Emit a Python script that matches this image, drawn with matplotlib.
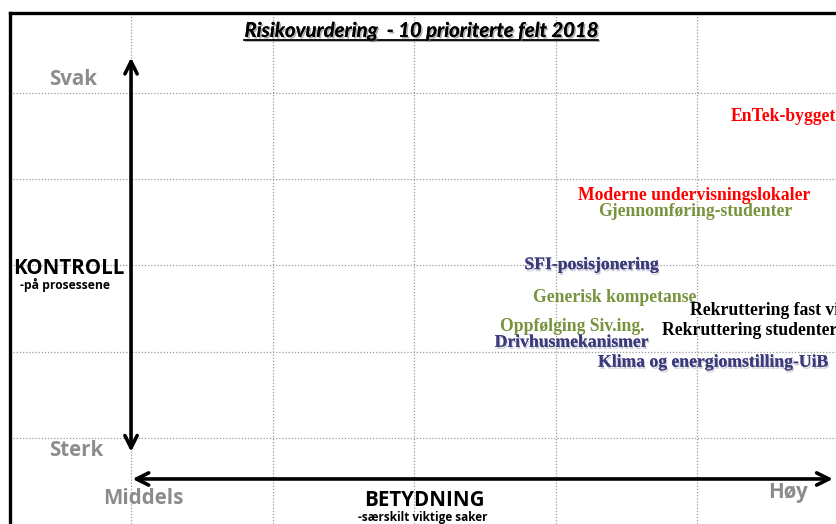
import matplotlib.pyplot as plt
import matplotlib.patheffects as pe

# risk items: importance (x, grid units) and control (y, grid units, 0 = strong)
items = [
    "EnTek-bygget",
    "Moderne undervisningslokaler",
    "Gjennomføring-studenter",
    "SFI-posisjonering",
    "Generisk kompetanse",
    "Rekruttering fast vitenskapelige",
    "Oppfølging Siv.ing.",
    "Rekruttering studenter",
    "Drivhusmekanismer",
    "Klima og energiomstilling-UiB",
]
importance = [4.24, 3.16, 3.30, 2.78, 2.84, 3.95, 2.61, 3.75, 2.57, 3.30]
control = [3.73, 2.81, 2.63, 2.01, 1.63, 1.48, 1.29, 1.25, 1.11, 0.88]
item_colors = ["#ff0000", "#ff0000", "#77933c", "#3b3b7b", "#77933c",
               "#000000", "#77933c", "#000000", "#3b3b7b", "#3b3b7b"]

grid_x = [0, 1, 2, 3, 4, 5]
grid_y = [0, 1, 2, 3, 4]

GRAY = "#8c8c8c"

fig = plt.figure(figsize=(8.37, 5.24), dpi=100)
ax = fig.add_axes([0, 0, 1, 1])
ax.set_xlim(-0.926, 4.989)
ax.set_ylim(-0.997, 5.078)
ax.axis("off")

left_edge, top_edge = -0.855, 4.928

# dotted grid
for gx in grid_x:
    ax.plot([gx, gx], [-0.997, top_edge], color="#9a9a9a", lw=0.9, ls=(0, (1, 1.5)), zorder=1)
for gy in grid_y:
    ax.plot([left_edge, 5], [gy, gy], color="#9a9a9a", lw=0.9, ls=(0, (1, 1.5)), zorder=1)

# frame (left and top edges visible)
ax.plot([left_edge, left_edge], [-0.997, top_edge], color="black", lw=2.4, zorder=2,
        solid_capstyle="projecting")
ax.plot([left_edge, 5], [top_edge, top_edge], color="black", lw=2.4, zorder=2,
        solid_capstyle="projecting")

# axis arrows
arrow = dict(arrowstyle="<->", lw=2.6, color="black", mutation_scale=22,
             shrinkA=0, shrinkB=0)
ax.annotate("", xy=(0, 4.41), xytext=(0, -0.16), arrowprops=arrow, zorder=3)
ax.annotate("", xy=(4.96, -0.475), xytext=(0.01, -0.475), arrowprops=arrow, zorder=3)

# title
title = ax.text(2.05, 4.72, "Risikovurdering  - 10 prioriterte felt 2018",
                ha="center", va="center", fontsize=14.6, fontweight="bold",
                style="italic", family="Lato",
                path_effects=[pe.withSimplePatchShadow(offset=(1.2, -1.2), shadow_rgbFace="#777777",
                                                       alpha=0.6), pe.Normal()])
fig.canvas.draw()
bb = title.get_window_extent().transformed(ax.transData.inverted())
ax.plot([bb.x0, bb.x1], [bb.y0 + 0.015, bb.y0 + 0.015], color="black", lw=1.3,
        path_effects=[pe.SimpleLineShadow(offset=(1, -1), shadow_color="#777777", alpha=0.6),
                      pe.Normal()])

# scale labels
lab = dict(fontsize=14.8, fontweight="bold", color=GRAY, family="Open Sans",
           ha="center", va="center")
ax.text(-0.41, 4.16, "Svak", **lab)
ax.text(-0.39, -0.15, "Sterk", **lab)
ax.text(0.09, -0.70, "Middels", **lab)
ax.text(4.64, -0.63, "Høy", **lab)

ax.text(-0.834, 1.97, "KONTROLL", fontsize=14.8, fontweight="bold", family="Open Sans",
        ha="left", va="center")
ax.text(-0.466, 1.77, "-på prosessene", fontsize=8.7, fontweight="bold", family="Open Sans",
        ha="center", va="center")
ax.text(2.07, -0.72, "BETYDNING", fontsize=14.8, fontweight="bold", family="Open Sans",
        ha="center", va="center")
ax.text(2.06, -0.92, "-særskilt viktige saker", fontsize=8.5, fontweight="bold",
        family="Open Sans", ha="center", va="center")

# risk items
for name, x, y, c in zip(items, importance, control, item_colors):
    effects = None
    if c == "#3b3b7b":
        effects = [pe.withSimplePatchShadow(offset=(0.8, -1.5), shadow_rgbFace="#9a9ab8",
                                            alpha=0.5), pe.Normal()]
    ax.text(x, y, name, color=c, fontsize=12.7, fontweight="bold", family="Liberation Serif",
            ha="left", va="center", path_effects=effects, zorder=4)

fig.savefig("out.png", dpi=100, facecolor="white")
